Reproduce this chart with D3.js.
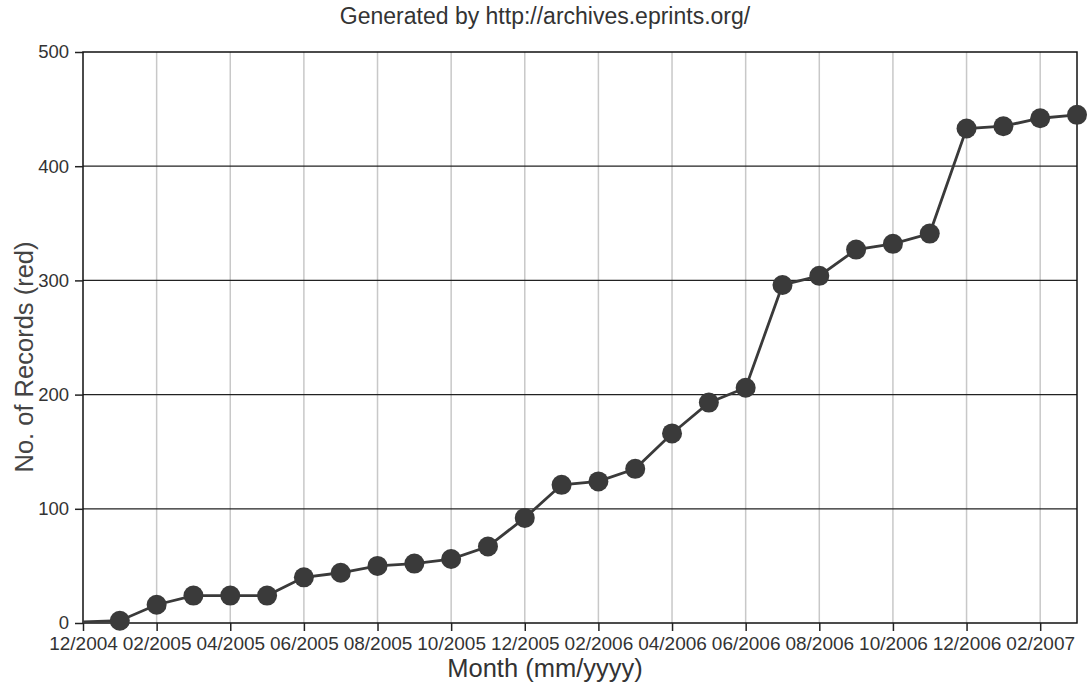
<!DOCTYPE html>
<html><head><meta charset="utf-8">
<script src="https://cdn.jsdelivr.net/npm/d3@7"></script>
<style>body{margin:0;background:#fff}svg{display:block}</style>
</head><body>
<svg id="c" width="1087" height="688"></svg>
<script>
const months = ["12/2004","01/2005","02/2005","03/2005","04/2005","05/2005","06/2005","07/2005","08/2005","09/2005","10/2005","11/2005","12/2005","01/2006","02/2006","03/2006","04/2006","05/2006","06/2006","07/2006","08/2006","09/2006","10/2006","11/2006","12/2006","01/2007","02/2007","03/2007"];
const records = [1,2,16,24,24,24,40,44,50,52,56,67,92,121,124,135,166,193,206,296,304,327,332,341,433,435,442,445];
const xTickLabels = ["12/2004","02/2005","04/2005","06/2005","08/2005","10/2005","12/2005","02/2006","04/2006","06/2006","08/2006","10/2006","12/2006","02/2007"];
const yTicks = [0,100,200,300,400,500];

const svg = d3.select("#c");
const L=83, R=1077, T=52, B=623;
const x = d3.scaleLinear().domain([0, months.length-1]).range([L,R]);
const y = d3.scaleLinear().domain([0,500]).range([B,T]);
const font = "Liberation Sans, Arial, sans-serif";
const txt = "#333";

// vertical grid
const xt = xTickLabels.map(l => months.indexOf(l));
svg.append("g").selectAll("line").data(xt.slice(1)).join("line")
  .attr("x1", d=>x(d)).attr("x2", d=>x(d)).attr("y1", T).attr("y2", B)
  .attr("stroke","#c8c8c8").attr("stroke-width",1.5);
// horizontal grid
svg.append("g").selectAll("line").data(yTicks.slice(1,-1)).join("line")
  .attr("x1", L).attr("x2", R).attr("y1", d=>y(d)).attr("y2", d=>y(d))
  .attr("stroke","#222").attr("stroke-width",1.3);
// frame
svg.append("rect").attr("x",L).attr("y",T).attr("width",R-L).attr("height",B-T)
  .attr("fill","none").attr("stroke","#111").attr("stroke-width",1.5);

// axes
const yAxis = svg.append("g").attr("transform",`translate(${L},0)`)
  .call(d3.axisLeft(y).tickValues(yTicks).tickSize(8).tickPadding(6));
const xAxis = svg.append("g").attr("transform",`translate(0,${B})`)
  .call(d3.axisBottom(x).tickValues(xt).tickFormat(i=>months[i]).tickSize(8).tickPadding(6));
[yAxis,xAxis].forEach(a=>{
  a.select(".domain").remove();
  a.selectAll("line").attr("stroke","#222").attr("stroke-width",1.5);
  a.selectAll("text").attr("fill",txt).style("font-family",font);
});
yAxis.selectAll("text").style("font-size","18.5px");
xAxis.selectAll("text").style("font-size","19px");

// line
svg.append("path").datum(records)
  .attr("d", d3.line().x((d,i)=>x(i)).y(d=>y(d)))
  .attr("fill","none").attr("stroke","#3a3a3a").attr("stroke-width",2.8);
// dots
svg.append("g").selectAll("circle").data(records.map((v,i)=>({v,i})).slice(1)).join("circle")
  .attr("cx",d=>x(d.i)).attr("cy",d=>y(d.v)).attr("r",10).attr("fill","#3a3a3a");

// titles
svg.append("text").attr("x",545).attr("y",24).attr("text-anchor","middle")
  .attr("fill",txt).style("font-family",font).style("font-size","23px")
  .text("Generated by http://archives.eprints.org/");
svg.append("text").attr("x",545).attr("y",677).attr("text-anchor","middle")
  .attr("fill",txt).style("font-family",font).style("font-size","25.5px")
  .text("Month (mm/yyyy)");
svg.append("text").attr("transform",`translate(33,357) rotate(-90)`).attr("text-anchor","middle")
  .attr("fill","#444").style("font-family",font).style("font-size","25.5px")
  .text("No. of Records (red)");
</script>
</body></html>
